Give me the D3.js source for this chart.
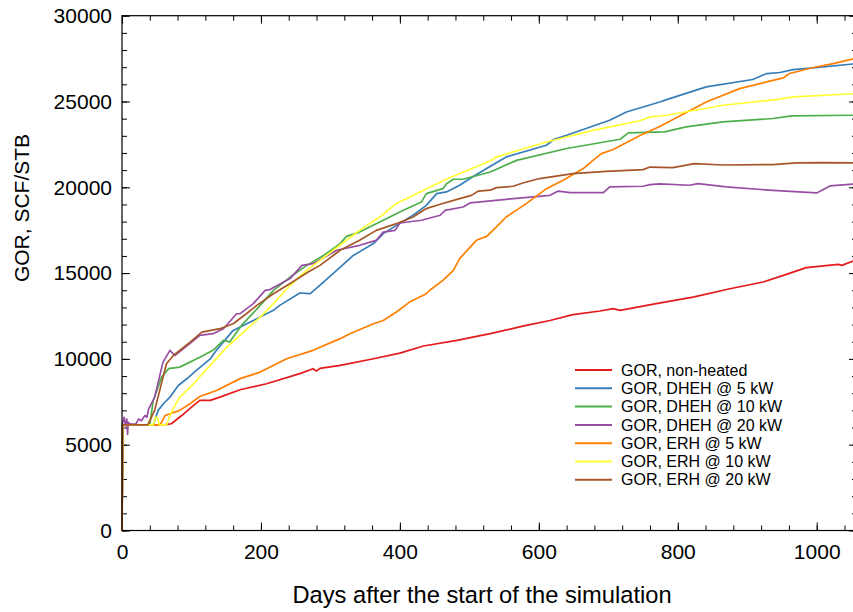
<!DOCTYPE html>
<html>
<head>
<meta charset="utf-8">
<script src="https://cdn.jsdelivr.net/npm/d3@7"></script>
<style>
  body { margin: 0; background: #fff; }
  svg { font-family: "Liberation Sans", Arial, sans-serif; }
</style>
</head>
<body>
<svg id="chart" width="853" height="612"></svg>
<script>
// ==================== DATA (day, GOR in SCF/STB) ====================
const seriesNames = [
  "GOR, non-heated",
  "GOR, DHEH @ 5 kW",
  "GOR, DHEH @ 10 kW",
  "GOR, DHEH @ 20 kW",
  "GOR, ERH @ 5 kW",
  "GOR, ERH @ 10 kW",
  "GOR, ERH @ 20 kW",
];
const seriesColors = ["#e41a1c", "#377eb8", "#4daf4a", "#984ea3", "#ff7f00", "#ffff33", "#a65628"];

const nonHeated = [[0,0],[1,6150],[30,6150],[62,6170],[71,6220],[86,6700],[103,7290],[112,7580],[127,7580],[141,7770],[170,8200],[208,8550],[256,9140],[275,9430],[280,9290],[285,9450],[314,9620],[362,10010],[400,10340],[434,10750],[482,11080],[530,11470],[577,11910],[616,12240],[649,12580],[688,12790],[707,12930],[717,12830],[769,13220],[822,13600],[875,14090],[923,14480],[952,14870],[985,15320],[1031,15510],[1036,15450],[1056,15750]];

const dheh5 = [[0,0],[1,6150],[45,6150],[52,7000],[60,7400],[69,7770],[81,8450],[95,8900],[107,9330],[118,9700],[127,10000],[136,10500],[160,11660],[189,12240],[218,12830],[227,13120],[256,13840],[271,13800],[290,14480],[309,15160],[333,16030],[362,16720],[376,17300],[395,17780],[419,18370],[438,18950],[453,19630],[467,19730],[486,20120],[506,20640],[553,21770],[611,22450],[621,22780],[640,23030],[702,23910],[726,24390],[774,24970],[784,25110],[841,25850],[908,26280],[928,26630],[947,26690],[966,26860],[995,26960],[1056,27200]];

const dheh10 = [[0,0],[1,6150],[40,6150],[45,7580],[57,8940],[67,9430],[83,9520],[112,10100],[131,10500],[146,11080],[155,10990],[172,11950],[194,12900],[218,13990],[242,14770],[266,15450],[290,16030],[314,16720],[323,17140],[342,17390],[371,17980],[405,18660],[431,19140],[438,19630],[462,19920],[467,20210],[477,20470],[491,20470],[530,20890],[568,21570],[640,22260],[717,22800],[729,23170],[781,23230],[812,23520],[865,23810],[937,24010],[964,24160],[1056,24200]];

const dheh20 = [[0,0],[1,6300],[3,6600],[5,6100],[7,6500],[8,5600],[9,6300],[12,6200],[20,6200],[24,6500],[28,6400],[33,6700],[36,6600],[38,7040],[47,7770],[59,9810],[69,10500],[76,10200],[98,10900],[112,11370],[131,11470],[146,11760],[165,12630],[170,12640],[189,13220],[206,13990],[213,14040],[242,14680],[259,15450],[275,15550],[309,16330],[342,16620],[366,16910],[376,17390],[393,17490],[400,17920],[431,18080],[458,18370],[465,18660],[491,18850],[501,19090],[553,19300],[616,19530],[628,19780],[645,19690],[693,19690],[702,20020],[750,20060],[760,20160],[774,20200],[817,20120],[829,20210],[870,20020],[937,19820],[1000,19670],[1019,20080],[1056,20200]];

const erh5 = [[0,0],[1,6150],[55,6150],[62,6700],[83,7000],[98,7390],[112,7810],[136,8160],[170,8850],[199,9230],[237,10010],[275,10500],[314,11180],[328,11470],[362,12050],[376,12240],[395,12730],[414,13310],[438,13800],[443,14000],[462,14580],[477,15160],[486,15840],[510,16910],[525,17140],[539,17690],[553,18270],[582,19050],[611,19920],[635,20410],[664,21090],[678,21570],[690,21960],[707,22200],[745,23000],[774,23540],[841,24970],[889,25750],[928,26140],[952,26380],[961,26630],[995,26980],[1024,27210],[1056,27520]];

const erh10 = [[0,0],[1,6150],[45,6150],[48,6600],[51,6600],[54,6150],[64,6150],[71,6900],[83,7770],[103,8550],[127,9620],[151,10690],[175,11560],[199,12440],[218,13220],[242,14290],[266,15160],[304,16330],[342,17490],[371,18270],[395,19050],[424,19630],[458,20310],[486,20800],[530,21530],[539,21770],[611,22640],[678,23320],[745,23880],[760,24100],[784,24200],[865,24780],[942,25110],[966,25270],[1056,25460]];

const erh20 = [[0,0],[1,6150],[37,6150],[47,7000],[64,9720],[74,10200],[98,10980],[115,11560],[141,11760],[160,12050],[179,12630],[194,13120],[218,13800],[242,14390],[268,15060],[285,15450],[314,16330],[342,16910],[366,17490],[395,17880],[419,18270],[438,18760],[458,19010],[486,19340],[503,19530],[513,19780],[530,19830],[539,19980],[563,20060],[577,20250],[601,20510],[649,20800],[697,20930],[750,21030],[760,21180],[793,21150],[824,21380],[865,21300],[937,21320],[971,21420],[1009,21440],[1056,21420]];

const seriesValues = [nonHeated, dheh5, dheh10, dheh20, erh5, erh10, erh20];

const xMajorTicks = [0, 200, 400, 600, 800, 1000];
const yMajorTicks = [0, 5000, 10000, 15000, 20000, 25000, 30000];

// ==================== LAYOUT ====================
const plot = { left: 122, right: 857, top: 15.7, bottom: 530.5 };
const svg = d3.select("#chart");

const x = d3.scaleLinear().domain([0, 1058]).range([plot.left, plot.right]);
const y = d3.scaleLinear().domain([0, 30000]).range([plot.bottom, plot.top]);

const xMinor = d3.range(0, 1058, 40);
const yMinor = d3.range(0, 30001, 1000);

// ==================== AXES ====================
function styleAxis(g) {
  g.select(".domain").remove();
  g.selectAll("line").attr("stroke", "#000");
  g.selectAll("text").attr("fill", "#000").style("font-size", "21px");
}

// bottom
svg.append("g").attr("transform", `translate(0,${plot.bottom})`)
  .call(d3.axisBottom(x).tickValues(xMinor).tickSize(-5).tickFormat(""))
  .call(styleAxis);
svg.append("g").attr("transform", `translate(0,${plot.bottom})`)
  .call(d3.axisBottom(x).tickValues(xMajorTicks).tickSize(-8).tickPadding(14).tickFormat(d3.format("d")))
  .call(styleAxis);
// top
svg.append("g").attr("transform", `translate(0,${plot.top})`)
  .call(d3.axisTop(x).tickValues(xMinor).tickSize(-5).tickFormat(""))
  .call(styleAxis);
svg.append("g").attr("transform", `translate(0,${plot.top})`)
  .call(d3.axisTop(x).tickValues(xMajorTicks).tickSize(-8).tickFormat(""))
  .call(styleAxis);
// left
svg.append("g").attr("transform", `translate(${plot.left},0)`)
  .call(d3.axisLeft(y).tickValues(yMinor).tickSize(-5).tickFormat(""))
  .call(styleAxis);
svg.append("g").attr("transform", `translate(${plot.left},0)`)
  .call(d3.axisLeft(y).tickValues(yMajorTicks).tickSize(-8).tickPadding(10).tickFormat(d3.format("d")))
  .call(styleAxis);
// right
svg.append("g").attr("transform", `translate(${plot.right},0)`)
  .call(d3.axisRight(y).tickValues(yMinor).tickSize(-5).tickFormat(""))
  .call(styleAxis);
svg.append("g").attr("transform", `translate(${plot.right},0)`)
  .call(d3.axisRight(y).tickValues(yMajorTicks).tickSize(-8).tickFormat(""))
  .call(styleAxis);

// ==================== LINES ====================
const line = d3.line().x((d) => x(d[0])).y((d) => y(d[1]));

svg.append("g")
  .selectAll("path")
  .data(seriesValues)
  .join("path")
  .attr("fill", "none")
  .attr("stroke", (d, i) => seriesColors[i])
  .attr("stroke-width", 1.7)
  .attr("stroke-linejoin", "round")
  .attr("d", line);

// frame
svg.append("rect")
  .attr("x", plot.left).attr("y", plot.top)
  .attr("width", plot.right - plot.left).attr("height", plot.bottom - plot.top)
  .attr("fill", "none").attr("stroke", "#000").attr("stroke-width", 1.2);

// ==================== TITLES ====================
svg.append("text")
  .attr("x", 482).attr("y", 603)
  .attr("text-anchor", "middle")
  .style("font-size", "23.7px")
  .text("Days after the start of the simulation");

svg.append("text")
  .attr("transform", "translate(29,208) rotate(-90)")
  .attr("text-anchor", "middle")
  .style("font-size", "21px")
  .text("GOR, SCF/STB");

// ==================== LEGEND ====================
const legend = svg.append("g").attr("transform", "translate(575,370)");
const item = legend.selectAll("g")
  .data(seriesNames)
  .join("g")
  .attr("transform", (d, i) => `translate(0,${i * 18.3})`);
item.append("line")
  .attr("x1", 0).attr("x2", 37)
  .attr("stroke", (d, i) => seriesColors[i])
  .attr("stroke-width", 2);
item.append("text")
  .attr("x", 46).attr("dy", "0.35em")
  .style("font-size", "16px")
  .text((d) => d);
</script>
</body>
</html>
